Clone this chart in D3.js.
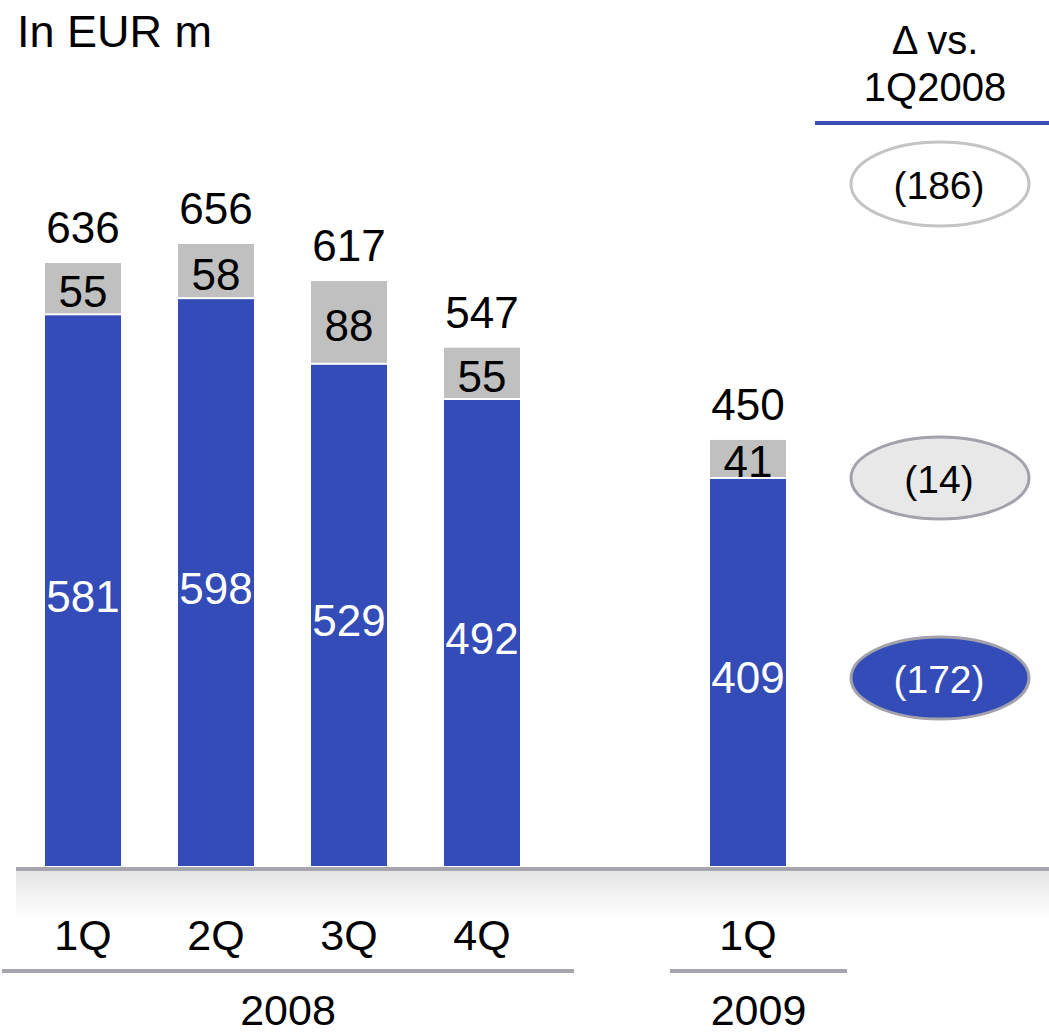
<!DOCTYPE html>
<html><head><meta charset="utf-8">
<script src="https://cdn.jsdelivr.net/npm/d3@7"></script>
<style>html,body{margin:0;padding:0;background:#fff;}svg{display:block;font-family:"Liberation Sans",Arial,sans-serif;}</style>
</head><body>
<svg id="c" width="1049" height="1034"></svg>
<script>
const categories = ["1Q 2008","2Q 2008","3Q 2008","4Q 2008","gap","1Q 2009"];
const quarterLabels = ["1Q","2Q","3Q","4Q","","1Q"];
const blueValues = [581, 598, 529, 492, null, 409];
const grayValues = [55, 58, 88, 55, null, 41];
const totals = [636, 656, 617, 547, null, 450];
const years = [{label:"2008", from:0, to:3}, {label:"2009", from:5, to:5}];
const deltaLabels = ["(186)", "(14)", "(172)"];

const svg = d3.select("#c");
const blue = "#334cb8", gray = "#c0c0c0";
const x = d3.scaleBand().domain(categories).range([45, 786]).paddingInner(0.4286).paddingOuter(0);
const y = d3.scaleLinear().domain([0, 656]).range([868, 244]);

// ground gradient
const defs = svg.append("defs");
const g = defs.append("linearGradient").attr("id","ground").attr("x1",0).attr("x2",0).attr("y1",0).attr("y2",1);
g.append("stop").attr("offset","0%").attr("stop-color","#e4e4e4");
g.append("stop").attr("offset","100%").attr("stop-color","#ffffff");
svg.append("rect").attr("x",16).attr("y",870).attr("width",1049).attr("height",48).attr("fill","url(#ground)");
svg.append("line").attr("x1",16).attr("x2",1049).attr("y1",869).attr("y2",869).attr("stroke","#a7a6ae").attr("stroke-width",4);

// title
svg.append("text").attr("x",17).attr("y",47).attr("font-size",45).attr("fill","#000").text("In EUR m");

const idx = d3.range(categories.length).filter(i => blueValues[i] !== null);
const bw = x.bandwidth();
const fs = 44;
// blue segments
svg.selectAll(".b").data(idx).join("rect")
  .attr("x", i => x(categories[i])).attr("width", bw)
  .attr("y", i => y(blueValues[i])).attr("height", i => y(0) - y(blueValues[i]) - 2)
  .attr("fill", blue);
// gray segments
svg.selectAll(".g").data(idx).join("rect")
  .attr("x", i => x(categories[i])).attr("width", bw)
  .attr("y", i => y(totals[i])).attr("height", i => y(blueValues[i]) - y(totals[i]) - 2)
  .attr("fill", gray);
// labels
svg.selectAll(".bl").data(idx).join("text")
  .attr("x", i => x(categories[i]) + bw/2).attr("y", i => (y(blueValues[i]) + y(0))/2 + 20)
  .attr("text-anchor","middle").attr("font-size",fs).attr("fill","#fff").text(i => blueValues[i]);
svg.selectAll(".gl").data(idx).join("text")
  .attr("x", i => x(categories[i]) + bw/2).attr("y", i => (y(blueValues[i]) + y(totals[i]))/2 + 18)
  .attr("text-anchor","middle").attr("font-size",fs).attr("fill","#000").text(i => grayValues[i]);
svg.selectAll(".tl").data(idx).join("text")
  .attr("x", i => x(categories[i]) + bw/2).attr("y", i => y(totals[i]) - 20)
  .attr("text-anchor","middle").attr("font-size",fs).attr("fill","#000").text(i => totals[i]);
// quarter labels
svg.selectAll(".ql").data(idx).join("text")
  .attr("x", i => x(categories[i]) + bw/2).attr("y", 950)
  .attr("text-anchor","middle").attr("font-size",43).attr("fill","#000").text(i => quarterLabels[i]);
// year lines
years.forEach((yr, k) => {
  const x1 = k === 0 ? 2 : x(categories[yr.from]) - 40;
  const x2 = x(categories[yr.to]) + bw + (k === 0 ? 54 : 61);
  svg.append("line").attr("x1",x1).attr("x2",x2).attr("y1",971).attr("y2",971).attr("stroke","#a7a6ae").attr("stroke-width",4);
  svg.append("text").attr("x",(x1+x2)/2).attr("y",1025).attr("text-anchor","middle").attr("font-size",43).attr("fill","#000").text(yr.label);
});

// right header
svg.append("text").attr("x",935).attr("y",54).attr("text-anchor","middle").attr("font-size",40).text("Δ vs.");
svg.append("text").attr("x",935).attr("y",101).attr("text-anchor","middle").attr("font-size",40).text("1Q2008");
svg.append("line").attr("x1",815).attr("x2",1049).attr("y1",123).attr("y2",123).attr("stroke","#3a4fb5").attr("stroke-width",4);

// ellipses
const ells = [
  {cy:184, ry:42, fill:"#ffffff", stroke:"#c4c4c4", text:"#000"},
  {cy:478, ry:41, fill:"#e8e8e8", stroke:"#a3a2ab", text:"#000"},
  {cy:678, ry:41, fill:blue, stroke:"#a3a2ab", text:"#fff"}
];
ells.forEach((e, k) => {
  svg.append("ellipse").attr("cx",940).attr("cy",e.cy).attr("rx",89).attr("ry",e.ry)
    .attr("fill",e.fill).attr("stroke",e.stroke).attr("stroke-width",3);
  svg.append("text").attr("x",939).attr("y",e.cy+15).attr("text-anchor","middle").attr("font-size",39).attr("fill",e.text).text(deltaLabels[k]);
});
</script>
</body></html>
